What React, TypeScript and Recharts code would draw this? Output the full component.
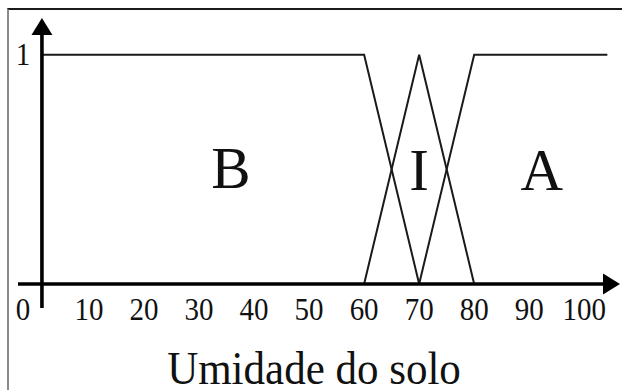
import React from 'react';
import { LineChart, Line, XAxis, YAxis, ReferenceLine, ReferenceDot } from 'recharts';

// Fuzzy sets for "Umidade do solo" (soil moisture)
const baixa = [
  { x: 1.45, y: 1 },
  { x: 60, y: 1 },
  { x: 70, y: 0 },
];
const intermediaria = [
  { x: 60, y: 0 },
  { x: 70, y: 1 },
  { x: 80, y: 0 },
];
const alta = [
  { x: 70, y: 0 },
  { x: 80, y: 1 },
  { x: 104.2, y: 1 },
];

const xTicks = [0, 10, 20, 30, 40, 50, 60, 70, 80, 90, 100];
const yTicks = [1];

const setNames = ['B', 'I', 'A'];
const setNameX = [35.8, 70, 92.3];
const setNameY = [0.42, 0.41, 0.41];

const axisTitle = 'Umidade do solo';

const xMin = -2.9;
const xMax = 106.5;
const yMin = -0.105;
const yMax = 1.16;
const yAxisAt = 1.45;

const SERIF = "'Liberation Serif', 'Times New Roman', serif";

const XTick = (props: any) => {
  const { x, y, payload } = props;
  const dx = payload.value === 0 ? -11 : 0;
  return (
    <text
      transform={`translate(${x + dx},${y + 12}) scale(1,1.1)`}
      textAnchor="middle"
      fontFamily={SERIF}
      fontSize={29}
      fill="#111"
    >
      {payload.value}
    </text>
  );
};

const YTick = (props: any) => {
  const { x, y, payload } = props;
  return (
    <text
      transform={`translate(${x + 5},${y + 10}) scale(1,1.1)`}
      textAnchor="middle"
      fontFamily={SERIF}
      fontSize={29}
      fill="#111"
    >
      {payload.value}
    </text>
  );
};

const TitleLabel = (props: any) => {
  const vb = props.viewBox || { x: 18, y: 308, width: 602, height: 82 };
  const cx = vb.x + vb.width / 2 - 5;
  const cy = vb.y + 76;
  return (
    <text
      transform={`translate(${cx},${cy}) scale(1,1.06)`}
      textAnchor="middle"
      fontFamily={SERIF}
      fontSize={43}
      fill="#111"
    >
      {axisTitle}
    </text>
  );
};

const arrowAxis = (dir: 'up' | 'right') => (props: any) => {
  const { x1, y1, x2, y2 } = props;
  const len = 17;
  const half = 10.5;
  if (dir === 'up') {
    const tipX = x1;
    const tipY = Math.min(y1, y2);
    const bottom = Math.max(y1, y2);
    return (
      <g>
        <line x1={tipX} y1={bottom} x2={tipX} y2={tipY + len - 1} stroke="#000" strokeWidth={3.6} />
        <polygon
          points={`${tipX},${tipY} ${tipX - half},${tipY + len} ${tipX + half},${tipY + len}`}
          fill="#000"
        />
      </g>
    );
  }
  const tipX = Math.max(x1, x2);
  const left = Math.min(x1, x2);
  const yy = y1;
  return (
    <g>
      <line x1={left} y1={yy} x2={tipX - len + 1} y2={yy} stroke="#000" strokeWidth={3.6} />
      <polygon
        points={`${tipX},${yy} ${tipX - len},${yy - half} ${tipX - len},${yy + half}`}
        fill="#000"
      />
    </g>
  );
};

const letterShape = (name: string) => (props: any) => {
  const { cx, cy } = props;
  return (
    <text x={cx} y={cy} textAnchor="middle" fontFamily={SERIF} fontSize={59} fill="#111">
      {name}
    </text>
  );
};

export default function App() {
  return (
    <div style={{ position: 'fixed', left: 0, top: 0, width: 622, height: 390, background: '#fff' }}>
      <div
        style={{
          position: 'absolute',
          left: 7,
          top: 8,
          width: 615,
          height: 382,
          boxSizing: 'border-box',
          borderTop: '2px solid #1a1a1a',
          borderLeft: '2px solid #8a8a8a',
        }}
      />
      <div style={{ position: 'absolute', left: 0, top: 0 }}>
        <LineChart width={622} height={390} margin={{ top: 18, right: 2, bottom: 0, left: 0 }}>
          <XAxis
            type="number"
            dataKey="x"
            domain={[xMin, xMax]}
            ticks={xTicks}
            interval={0}
            height={82}
            axisLine={false}
            tickLine={false}
            tickSize={0}
            tickMargin={0}
            tick={XTick}
            allowDataOverflow
            label={TitleLabel}
          />
          <YAxis
            type="number"
            domain={[yMin, yMax]}
            ticks={yTicks}
            interval={0}
            width={18}
            axisLine={false}
            tickLine={false}
            tickSize={0}
            tickMargin={0}
            tick={YTick}
            allowDataOverflow
          />
          <Line
            data={baixa}
            dataKey="y"
            type="linear"
            stroke="#1a1a1a"
            strokeWidth={2}
            dot={false}
            activeDot={false}
            isAnimationActive={false}
          />
          <Line
            data={intermediaria}
            dataKey="y"
            type="linear"
            stroke="#1a1a1a"
            strokeWidth={2}
            dot={false}
            activeDot={false}
            isAnimationActive={false}
          />
          <Line
            data={alta}
            dataKey="y"
            type="linear"
            stroke="#1a1a1a"
            strokeWidth={2}
            dot={false}
            activeDot={false}
            isAnimationActive={false}
          />
          <ReferenceLine
            segment={[
              { x: xMin, y: 0 },
              { x: xMax, y: 0 },
            ]}
            ifOverflow="visible"
            shape={arrowAxis('right')}
          />
          <ReferenceLine
            segment={[
              { x: yAxisAt, y: yMin },
              { x: yAxisAt, y: yMax },
            ]}
            ifOverflow="visible"
            shape={arrowAxis('up')}
          />
          {setNames.map((n, i) => (
            <ReferenceDot
              key={n}
              x={setNameX[i]}
              y={setNameY[i]}
              r={0}
              ifOverflow="visible"
              shape={letterShape(n)}
            />
          ))}
        </LineChart>
      </div>
    </div>
  );
}
